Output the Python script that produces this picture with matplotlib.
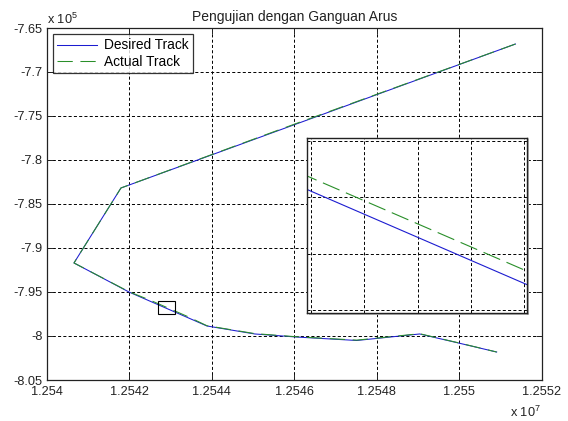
import matplotlib
matplotlib.use("Agg")
import matplotlib.pyplot as plt
from matplotlib.patches import Rectangle

plt.rcParams["font.family"] = ["Liberation Sans", "DejaVu Sans"]
plt.rcParams["mathtext.fontset"] = "custom"
plt.rcParams["mathtext.rm"] = "Liberation Sans"
plt.rcParams["mathtext.default"] = "regular"
plt.rcParams["lines.scale_dashes"] = False

# Track coordinates: x in units of 1e7, y in units of 1e5
desired_x = [1.2551356, 1.2541799, 1.2540661, 1.2541993, 1.2543881,
             1.2545044, 1.2546034, 1.2547511, 1.2549037, 1.2549981, 1.2550901]
desired_y = [-7.6682, -7.8318, -7.9170, -7.9500, -7.9886,
             -7.9977, -8.0011, -8.0051, -7.9977, -8.0080, -8.0182]

actual_x = [1.2551356, 1.2546000, 1.2541799, 1.2540661, 1.2541993, 1.2542500,
            1.2543400, 1.2543881, 1.2545044, 1.2546034, 1.2547511, 1.2549037,
            1.2549981, 1.2550901]
actual_y = [-7.6682, -7.7593, -7.8318, -7.9170, -7.9497, -7.95917,
            -7.97757, -7.9883, -7.9973, -8.0008, -8.0047, -7.9974,
            -8.0078, -8.0182]

x_ticks = [1.254, 1.2542, 1.2544, 1.2546, 1.2548, 1.255, 1.2552]
x_labels = ["1.254", "1.2542", "1.2544", "1.2546", "1.2548", "1.255", "1.2552"]
y_ticks = [-8.05, -8.0, -7.95, -7.9, -7.85, -7.8, -7.75, -7.7, -7.65]
y_labels = ["-8.05", "-8", "-7.95", "-7.9", "-7.85", "-7.8", "-7.75", "-7.7", "-7.65"]

# zoomed window (grid positions of the magnified view)
zoom_x_ticks = [1.25427, 1.25428, 1.25429, 1.25430, 1.25431]
zoom_y_ticks = [-7.975, -7.970, -7.965, -7.960]

BLUE = "#1c1cd0"
GREEN = "#2a8f2a"
GRID_STYLE = dict(color="black", linestyle=(0, (2.2, 1.6)), linewidth=0.7)

W, H = 568, 421
fig = plt.figure(figsize=(W / 100, H / 100), dpi=100)
fig.patch.set_facecolor("white")


def px_axes(x0, y0, x1, y1):
    return [x0 / W, 1 - y1 / H, (x1 - x0) / W, (y1 - y0) / H]


ax = fig.add_axes(px_axes(46.7, 28, 542, 380))
ax.plot(desired_x, desired_y, color=BLUE, lw=0.75, label="Desired Track")
ax.plot(actual_x, actual_y, color=GREEN, lw=0.75, linestyle=(0, (11, 5.5)),
        label="Actual Track")
ax.set_xlim(1.254, 1.2552)
ax.set_ylim(-8.05, -7.65)
ax.set_xticks(x_ticks)
ax.set_xticklabels(x_labels)
ax.set_yticks(y_ticks)
ax.set_yticklabels(y_labels)
ax.tick_params(direction="in", length=4, width=0.7, top=True, right=True,
               labelsize=9.2, colors="#222222", pad=3)
ax.tick_params(axis="x", pad=4.5)
ax.grid(True, **GRID_STYLE)
for s in ax.spines.values():
    s.set_linewidth(0.9)
    s.set_color("#222222")
ax.set_title("Pengujian dengan Ganguan Arus", fontsize=10, color="#222222", pad=5)

leg = ax.legend(loc="upper left", fontsize=9.9, frameon=True, fancybox=False,
                edgecolor="black", borderpad=0.3, handlelength=2.9,
                handletextpad=0.55, labelspacing=0.18, borderaxespad=0.45)
leg.get_frame().set_linewidth(0.9)

fig.text(47 / W, 1 - 19 / H, "x 10$^{5}$", fontsize=9.2, color="#222222",
         va="center", ha="left")
fig.text(510 / W, 1 - 412 / H, "x 10$^{7}$", fontsize=9.2, color="#222222",
         va="center", ha="left")

# magnified view
ix0, iy0, ix1, iy1 = 307.3, 137.7, 527.3, 313.3
gx0, gy0, gx1, gy1 = 311.0, 141.0, 524.0, 310.0
sx = (zoom_x_ticks[-1] - zoom_x_ticks[0]) / (gx1 - gx0)
sy = (zoom_y_ticks[-1] - zoom_y_ticks[0]) / (gy1 - gy0)
zx_lo = zoom_x_ticks[0] - (gx0 - ix0) * sx
zx_hi = zoom_x_ticks[-1] + (ix1 - gx1) * sx
zy_lo = zoom_y_ticks[0] - (iy1 - gy1) * sy
zy_hi = zoom_y_ticks[-1] + (gy0 - iy0) * sy

shadow = fig.add_axes(px_axes(ix0 + 1.5, iy0 + 1.5, ix1 + 1.5, iy1 + 1.5))
shadow.set_facecolor("#b8b8b8")
shadow.set_xticks([])
shadow.set_yticks([])
for s in shadow.spines.values():
    s.set_visible(False)

axi = fig.add_axes(px_axes(ix0, iy0, ix1, iy1))
axi.set_facecolor("white")
axi.plot(desired_x, desired_y, color=BLUE, lw=0.8)
axi.plot(actual_x, actual_y, color=GREEN, lw=0.8, linestyle=(0, (13, 5)))
axi.set_xlim(zx_lo, zx_hi)
axi.set_ylim(zy_lo, zy_hi)
axi.set_xticks(zoom_x_ticks)
axi.set_yticks(zoom_y_ticks)
axi.set_xticklabels([])
axi.set_yticklabels([])
axi.tick_params(length=0)
axi.grid(True, **GRID_STYLE)
for s in axi.spines.values():
    s.set_linewidth(1.0)
    s.set_color("#222222")

# outline of the magnified region on the main axes
ax.add_patch(Rectangle((zx_lo, zy_lo), zx_hi - zx_lo, zy_hi - zy_lo,
                       fill=False, edgecolor="black", lw=0.8, zorder=5))

fig.savefig("out.png", dpi=100, facecolor="white")
